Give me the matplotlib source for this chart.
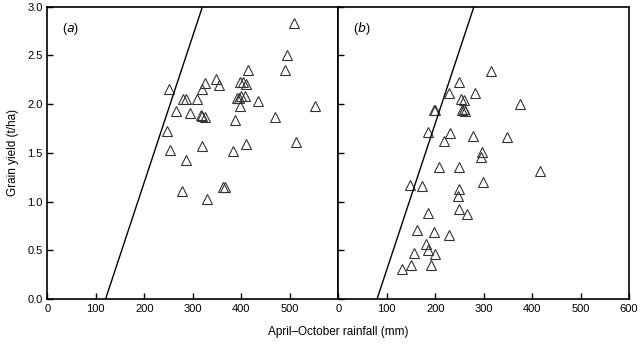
import matplotlib
matplotlib.use("Agg")
import matplotlib.pyplot as plt

plt.rcParams['font.family'] = ['Liberation Sans', 'DejaVu Sans']

# panel (a): rainfall (mm) vs grain yield (t/ha)
rain_a = [250, 325, 348, 355, 319, 279, 285, 309, 265, 294, 316, 320, 326,
          246, 252, 318, 285, 278, 330, 362, 367, 508, 494, 490, 413, 398,
          403, 409, 391, 396, 400, 407, 398, 435, 553, 387, 469, 409, 383, 513]
yield_a = [2.15, 2.22, 2.26, 2.20, 2.15, 2.05, 2.05, 2.05, 1.93, 1.91, 1.89, 1.88, 1.87,
           1.72, 1.53, 1.57, 1.43, 1.11, 1.03, 1.15, 1.15, 2.83, 2.50, 2.35, 2.35, 2.23,
           2.23, 2.21, 2.06, 2.06, 2.08, 2.08, 1.98, 2.03, 1.98, 1.84, 1.87, 1.59, 1.52, 1.61]

# panel (b)
rain_b = [315, 250, 228, 283, 254, 260, 374, 256, 260, 262, 197, 200, 185, 230,
          219, 279, 348, 297, 295, 208, 250, 416, 148, 172, 250, 299, 248, 185,
          250, 265, 163, 197, 228, 182, 185, 199, 156, 151, 192, 131]
yield_b = [2.34, 2.23, 2.11, 2.11, 2.05, 2.04, 2.00, 1.94, 1.95, 1.93, 1.935, 1.935, 1.71, 1.70,
           1.62, 1.675, 1.66, 1.51, 1.46, 1.35, 1.35, 1.31, 1.17, 1.155, 1.13, 1.20, 1.06, 0.88,
           0.92, 0.87, 0.71, 0.685, 0.66, 0.565, 0.50, 0.46, 0.47, 0.35, 0.35, 0.31]

# water-limited potential yield line: slope (t/ha per mm), x-intercept (mm)
wue = 0.015
evap_a = 120
evap_b = 80

fig, (ax1, ax2) = plt.subplots(1, 2, figsize=(6.4, 3.45), dpi=100, sharey=True)
fig.subplots_adjust(left=0.074, right=0.983, top=0.981, bottom=0.133, wspace=0)

for ax, x, y, ev, lab in [(ax1, rain_a, yield_a, evap_a, 'a'), (ax2, rain_b, yield_b, evap_b, 'b')]:
    ax.plot(x, y, linestyle='none', marker='^', markersize=7.5,
            markerfacecolor='none', markeredgecolor='#333333', markeredgewidth=0.8)
    ax.plot([ev, ev + 3.0 / wue], [0, 3.0], color='black', linewidth=1.0)
    ax.set_xlim(0, 600)
    ax.set_ylim(0, 3.0)
    ax.tick_params(direction='in', length=4, width=1, labelsize=8, top=False, right=False)
    for s in ax.spines.values():
        s.set_linewidth(1.2)
    ax.text(30, 2.77, '(' + r'$\it{' + lab + '}$' + ')', fontsize=9, va='center')

ax1.set_xticks([0, 100, 200, 300, 400, 500])
ax2.set_xticks([0, 100, 200, 300, 400, 500, 600])
ax1.set_yticks([0, 0.5, 1.0, 1.5, 2.0, 2.5, 3.0])
ax1.set_yticklabels(['0.0', '0.5', '1.0', '1.5', '2.0', '2.5', '3.0'])
ax2.tick_params(labelleft=False)

ax1.set_ylabel('Grain yield (t/ha)', fontsize=8.5, labelpad=6)
fig.text(0.528, 0.02, 'April\u2013October rainfall (mm)', fontsize=8.5, ha='center', va='bottom')

plt.savefig('out.png', dpi=100)
plt.close()
